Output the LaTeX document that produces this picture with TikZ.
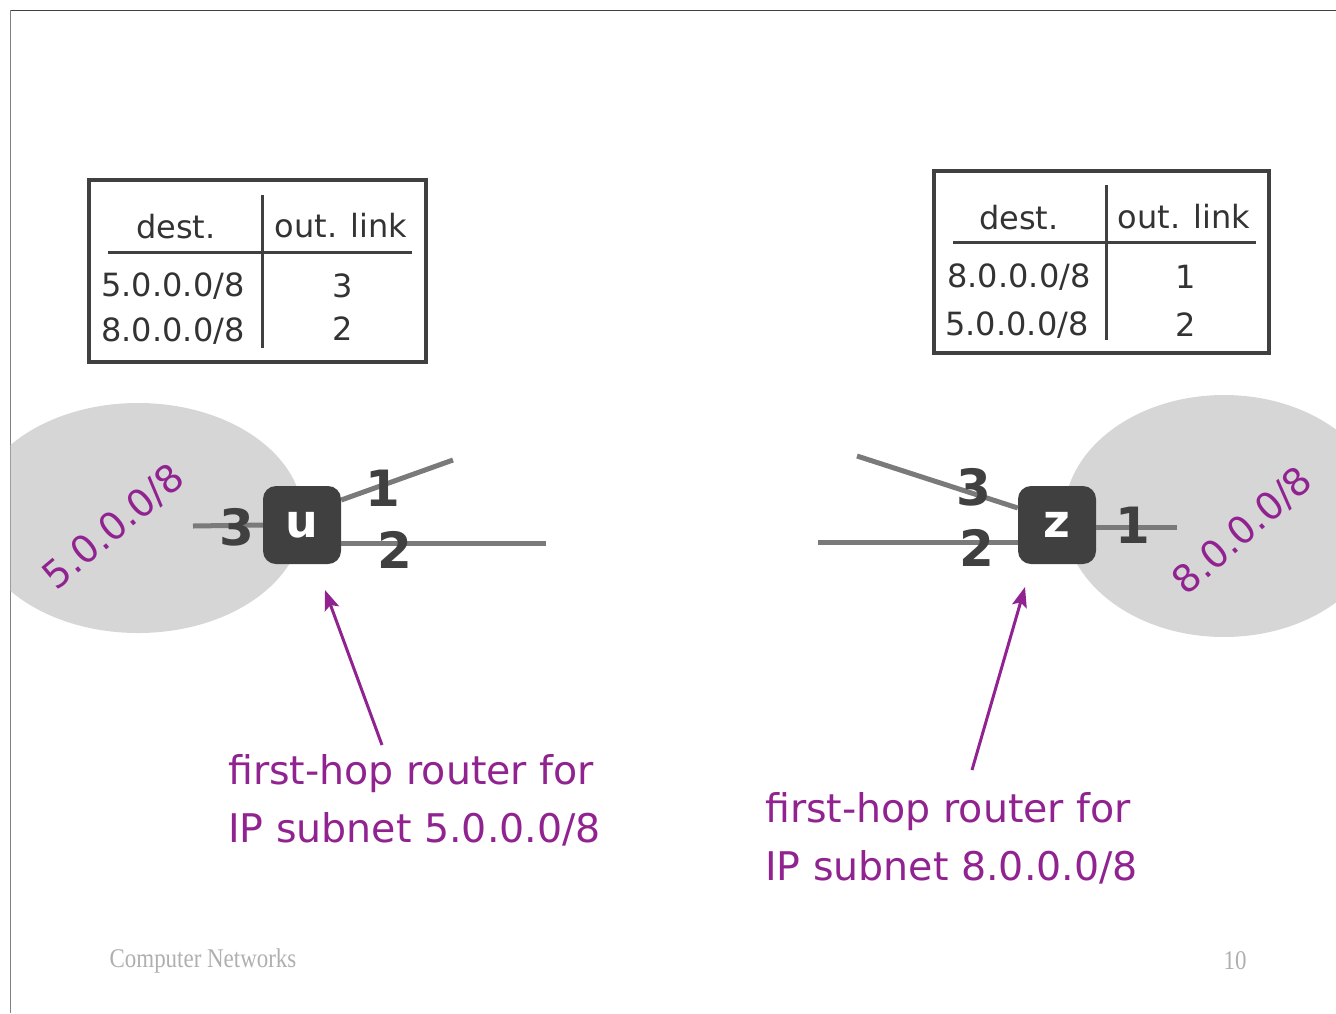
\documentclass[tikz,border=0pt]{standalone}
\usepackage{fontspec}
\setmainfont{DejaVu Sans}
\newfontfamily\footfont{Liberation Serif}
\usetikzlibrary{arrows.meta}
\definecolor{netpurple}{RGB}{145,35,145}
\definecolor{routergray}{RGB}{64,64,64}
\definecolor{linkgray}{RGB}{122,122,122}
\definecolor{subnetgray}{RGB}{214,214,214}
\definecolor{footgray}{RGB}{175,175,175}
\begin{document}
\begin{tikzpicture}[x=1pt, y=-1pt,
        router/.style={fill=routergray, rounded corners=13pt, minimum size=78pt, inner sep=0pt, text=white, font=\fontsize{46}{46}\selectfont\bfseries},
        port/.style={text=routergray, inner sep=0pt, font=\fontsize{50}{50}\selectfont\bfseries},
        link/.style={draw=linkgray, line width=5pt},
        tabframe/.style={draw=routergray, line width=4.5pt},
        tabrule/.style={draw=routergray, line width=3pt},
        tabtext/.style={text=black!80, inner sep=0pt, font=\fontsize{32}{32}\selectfont},
        netlab/.style={text=netpurple, inner sep=0pt, font=\fontsize{38}{38}\selectfont},
        note/.style={text=netpurple, inner sep=0pt, align=left, font=\fontsize{39.5}{58}\selectfont},
        pointer/.style={draw=netpurple, line width=3pt, -{Stealth[length=20pt, width=15pt, inset=4pt]}},
        foot/.style={text=footgray, inner sep=0pt, xscale=0.85, font=\footfont\fontsize{27}{27}\selectfont}]
    \useasboundingbox (0,0) rectangle (1336,1013);
    \draw[black!75, line width=1pt] (10,10) -- (1336,10);
    \draw[gray, line width=1pt] (10,10) -- (10,1013);
    \begin{scope}
        \clip (10.5,10.5) rectangle (1336,1013);
        \fill[subnetgray] (138,518) ellipse [x radius=165pt, y radius=115pt];
        \fill[subnetgray] (1224,516) ellipse [x radius=160pt, y radius=121pt];
    \end{scope}
    \draw[tabframe] (89,180) rectangle (426,362);
    \draw[tabrule] (262,195) -- (262,348);
    \draw[tabrule] (108,252) -- (412,252);
    \node (ldest) [tabtext] at (176,227) {dest.};
    \node (llink) [tabtext] at (341,226) {out. link};
    \node (lrow1) [tabtext] at (173,286) {5.0.0.0/8};
    \node (lout1) [tabtext] at (343,286) {3};
    \node (lrow2) [tabtext] at (173,331) {8.0.0.0/8};
    \node (lout2) [tabtext] at (343,329) {2};
    \draw[tabframe] (934,171) rectangle (1269,353);
    \draw[tabrule] (1106,185) -- (1106,340);
    \draw[tabrule] (953,242) -- (1256,242);
    \node (rdest) [tabtext] at (1019,218) {dest.};
    \node (rlink) [tabtext] at (1184,217) {out. link};
    \node (rrow1) [tabtext] at (1019,277) {8.0.0.0/8};
    \node (rout1) [tabtext] at (1186,277) {1};
    \node (rrow2) [tabtext] at (1017,325) {5.0.0.0/8};
    \node (rout2) [tabtext] at (1186,325) {2};
    \node (lnet) [netlab, rotate=40] at (114,527) {5.0.0.0/8};
    \node (rnet) [netlab, rotate=41] at (1243,531) {8.0.0.0/8};
    \node (u) [router] at (302,525) {\raisebox{-4pt}{u}};
    \node (z) [router] at (1057,525) {\raisebox{-3pt}{z}};
    \coordinate (u3end) at (193,526);
    \coordinate (u1end) at (453,460);
    \coordinate (u2end) at (546,543);
    \coordinate (z3end) at (857,456);
    \coordinate (z2end) at (818,542);
    \coordinate (z1end) at (1177,527);
    \draw[link] (u3end) -- (u.west);
    \draw[link] ([yshift=25pt]u.east) -- (u1end);
    \draw[link] ([yshift=-18pt]u.east) -- (u2end);
    \draw[link] (z3end) -- ([yshift=17pt]z.west);
    \draw[link] (z2end) -- ([yshift=-17pt]z.west);
    \draw[link] ([yshift=-2pt]z.east) -- (z1end);
    \node (u3) [port] at (237,527) {3};
    \node (u1) [port] at (383,488) {1};
    \node (u2) [port] at (395,550) {2};
    \node (z3) [port] at (974,487) {3};
    \node (z2) [port] at (977,548) {2};
    \node (z1) [port] at (1133,525) {1};
    \node (unote) [note, anchor=north west] at (228,754) {first-hop router for\\IP subnet 5.0.0.0/8};
    \node (znote) [note, anchor=north west] at (765,792) {first-hop router for\\IP subnet 8.0.0.0/8};
    \coordinate (utip) at (325,590);
    \coordinate (ztip) at (1025,587);
    \draw[pointer] ([xshift=154pt,yshift=9pt]unote.north west) -- (utip);
    \draw[pointer] ([xshift=207pt,yshift=22pt]znote.north west) -- (ztip);
    \node (course) [foot] at (203,961) {Computer Networks};
    \node (page) [foot] at (1235,961) {10};
\end{tikzpicture}
\end{document}
